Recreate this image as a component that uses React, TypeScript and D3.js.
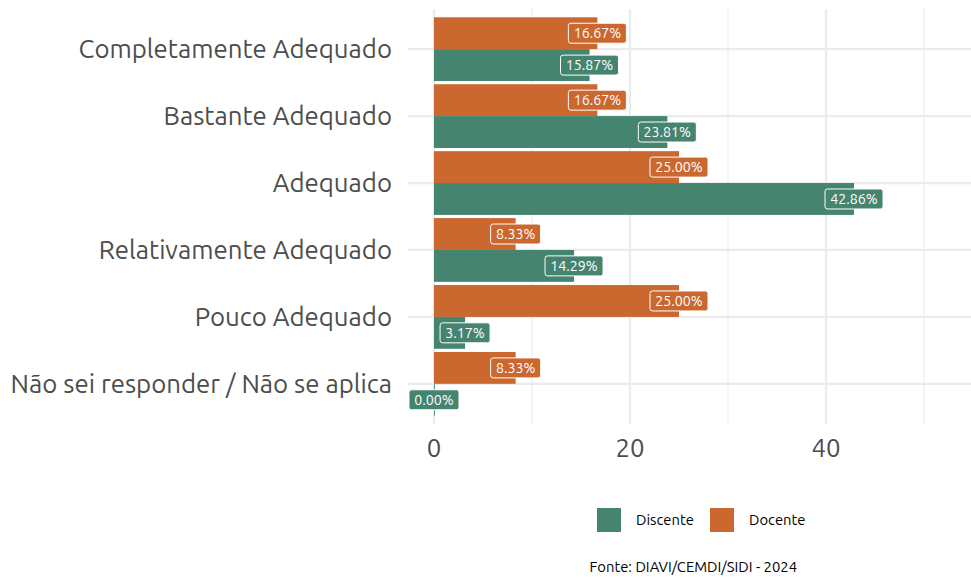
import React from "react";
import * as d3 from "d3";

const categories = [
  "Completamente Adequado",
  "Bastante Adequado",
  "Adequado",
  "Relativamente Adequado",
  "Pouco Adequado",
  "Não sei responder / Não se aplica",
];
const seriesNames = ["Docente", "Discente"];
const discente = [15.87, 23.81, 42.86, 14.29, 3.17, 0.0];
const docente = [16.67, 16.67, 25.0, 8.33, 25.0, 8.33];
const majorTicks = [0, 20, 40];
const minorTicks = [10, 30, 50];
const legendItems = ["Discente", "Docente"];
const caption = "Fonte: DIAVI/CEMDI/SIDI - 2024";

const colors: Record<string, string> = { Discente: "#45846F", Docente: "#CB6830" };
const FONT = "Ubuntu, 'Noto Sans', 'Open Sans', sans-serif";

export default function App() {
  const W = 971, H = 579;
  const panel = { left: 408, right: 971, top: 9, bottom: 424 };
  const x = d3.scaleLinear().domain([0, 40]).range([434, 826]);
  const y = d3.scaleBand().domain(categories).range([panel.top, panel.bottom]).paddingOuter(0.1).paddingInner(0);
  const inner = d3.scaleBand().domain(seriesNames).range([0, y.bandwidth()]).paddingOuter(0.05);
  const values: Record<string, number[]> = { Discente: discente, Docente: docente };

  const bars: any[] = [];
  const labels: any[] = [];
  categories.forEach((c, i) => {
    seriesNames.forEach((s) => {
      const v = values[s][i];
      const y0 = (y(c) as number) + (inner(s) as number);
      const h = inner.bandwidth();
      bars.push(
        <rect key={`b-${c}-${s}`} x={x(0)} y={y0} width={Math.max(x(v) - x(0), 0.8)} height={h} fill={colors[s]} />
      );
      const txt = v.toFixed(2) + "%";
      const tw = txt.length * 8.0 + 2;
      const cx = x(v);
      const cy = y0 + h / 2;
      labels.push(
        <g key={`l-${c}-${s}`}>
          <rect x={cx - tw / 2 - 4} y={cy - 10} width={tw + 8} height={20} rx={2.5} fill={colors[s]} stroke="#fff" strokeWidth={1} />
          <text x={cx} y={cy} dy="0.36em" textAnchor="middle" fill="#fff" fontSize={14.2} fontFamily={FONT}>{txt}</text>
        </g>
      );
    });
  });

  return (
    <svg width={W} height={H} style={{ position: "absolute", left: 0, top: 0, background: "#fff" }}>
      {minorTicks.map((t) => (
        <line key={`mn${t}`} x1={x(t)} x2={x(t)} y1={panel.top} y2={panel.bottom} stroke="#EBEBEB" strokeWidth={1.1} />
      ))}
      {majorTicks.map((t) => (
        <line key={`mj${t}`} x1={x(t)} x2={x(t)} y1={panel.top} y2={panel.bottom} stroke="#EBEBEB" strokeWidth={2.2} />
      ))}
      {categories.map((c) => {
        const cy = (y(c) as number) + y.bandwidth() / 2;
        return <line key={`h${c}`} x1={panel.left} x2={panel.right} y1={cy} y2={cy} stroke="#EBEBEB" strokeWidth={2.2} />;
      })}
      {bars}
      {labels}
      {categories.map((c) => {
        const cy = (y(c) as number) + y.bandwidth() / 2;
        return (
          <text key={`t${c}`} x={392} y={cy} dy="0.36em" textAnchor="end" fill="#4D4D4D" fontSize={25.8} fontFamily={FONT}>{c}</text>
        );
      })}
      {majorTicks.map((t) => (
        <text key={`xt${t}`} x={x(t)} y={448} dy="0.36em" textAnchor="middle" fill="#4D4D4D" fontSize={25.8} fontFamily={FONT}>{t}</text>
      ))}
      {legendItems.map((s, i) => {
        const lx = 597 + i * 113;
        return (
          <g key={`lg${s}`}>
            <rect x={lx} y={508} width={24} height={24} fill={colors[s]} />
            <text x={lx + 39} y={520} dy="0.36em" fill="#000" fontSize={14.8} fontFamily={FONT}>{s}</text>
          </g>
        );
      })}
      <text x={797} y={567} dy="0.36em" textAnchor="end" fill="#000" fontSize={14.8} fontFamily={FONT}>{caption}</text>
    </svg>
  );
}
